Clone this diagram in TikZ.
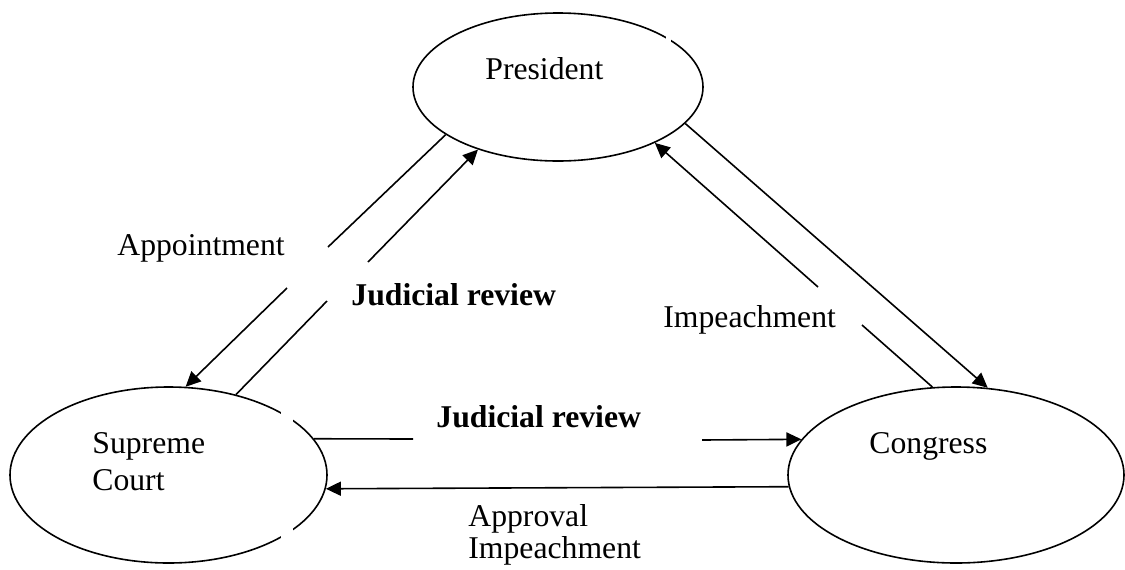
\documentclass[tikz,border=0pt]{standalone}
\usepackage{fontspec}
\setmainfont{Liberation Serif}
\usetikzlibrary{shapes.geometric,arrows.meta}
\tikzset{
  branch/.style={draw, ellipse, inner sep=0pt, line width=0.8pt},
  lbl/.style={anchor=base west, inner sep=0pt, align=left, font=\fontsize{15.85}{18.5}\selectfont},
  link/.style={line width=0.8pt},
  arrowline/.style={link, -{Triangle[length=7.5pt,width=7pt]}}
}
\begin{document}
\begin{tikzpicture}[x=0.5pt,y=0.5pt,yscale=-1,xscale=1]
            \useasboundingbox (0,0) rectangle (1125,569);

            %Shape: Ellipse [id:pres]
            \node (pres) [branch, minimum width=145pt, minimum height=74pt] at (558,87) {};
            %Shape: Ellipse [id:court]
            \node (court) [branch, minimum width=158.5pt, minimum height=88pt] at (168.5,475) {};
            %Shape: Ellipse [id:congress]
            \node (congress) [branch, minimum width=168pt, minimum height=88pt] at (956,475) {};
            % breaks in the outlines
            \fill [white] (281,405) rectangle (293,428);
            \fill [white] (281,522) rectangle (293,542);
            \fill [white] (666,30) rectangle (671,50);

            % Text Node
            \node (presname) [lbl] at (485,79) {President};
            % Text Node (base is the last line)
            \node (courtname) [lbl] at (92,490) {Supreme\\Court};
            % Text Node
            \node (congressname) [lbl] at (869,453) {Congress};
            % Text Node
            \node (appoint) [lbl] at (117,255) {Appointment};
            % Text Node
            \node (reviewup) [lbl, font=\fontsize{15.85}{18.5}\selectfont\bfseries] at (351,305) {Judicial review};
            % Text Node
            \node (impeachup) [lbl] at (663,327) {Impeachment};
            % Text Node
            \node (reviewdown) [lbl, font=\fontsize{15.85}{18.5}\selectfont\bfseries] at (436,427) {Judicial review};
            % Text Node
            \node (approval) [lbl] at (468,558) {Approval\\[-2.5pt]Impeachment};

            % ends of the broken lines
            \coordinate (apA) at (328,247);
            \coordinate (apB) at (287,288);
            \coordinate (jrA) at (327,301);
            \coordinate (jrB) at (368,262);
            \coordinate (imA) at (862,325);
            \coordinate (imB) at (818,287);
            \coordinate (jdA) at (413,439);
            \coordinate (jdB) at (702,440);

            %Straight Lines [id:appointment]
            \draw [link] (pres.203.5) -- (apA);
            \draw [arrowline] (apB) -- (court.79.9);
            %Straight Lines [id:review up]
            \draw [link] (court.50.7) -- (jrA);
            \draw [arrowline] (jrB) -- (pres.218.9);
            %Straight Lines [id:president to congress]
            \draw [arrowline] (pres.344.6) -- (congress.70);
            %Straight Lines [id:impeachment]
            \draw [link] (congress.105.3) -- (imA);
            \draw [arrowline] (imB) -- (pres.330);
            %Straight Lines [id:review down]
            \draw [link] (court.14) -- (jdA);
            \draw [arrowline] (jdB) -- (congress.167.2);
            %Straight Lines [id:approval]
            \draw [arrowline] (congress.184.1) -- (court.355.7);
\end{tikzpicture}
\end{document}
